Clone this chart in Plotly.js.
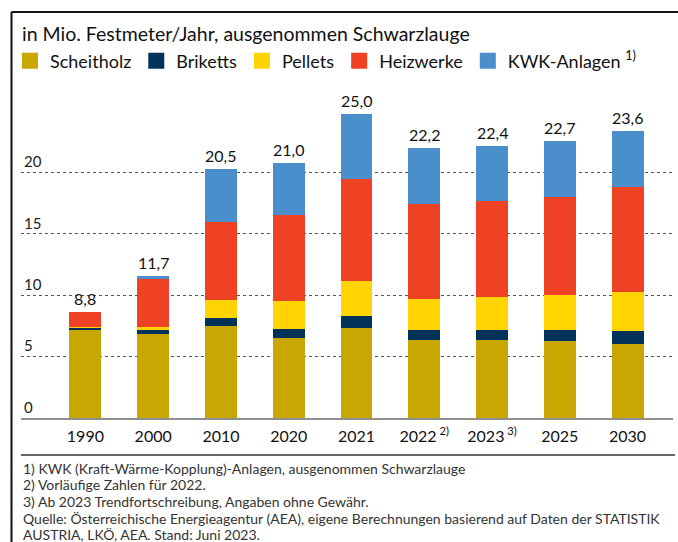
<!DOCTYPE html>
<html>
<head>
<meta charset="utf-8">
<script src="https://cdn.plot.ly/plotly-3.0.1.min.js"></script>
<style>html,body{margin:0;padding:0;background:#fff;}#chart{width:678px;height:542px;}</style>
</head>
<body>
<div id="chart"></div>
<script>
// Data (Mio. Festmeter/Jahr)
const years = ['1990','2000','2010','2020','2021','2022','2023','2025','2030'];
const yearLabels = ['1990','2000','2010','2020','2021','2022<sup> 2)</sup>','2023<sup> 3)</sup>','2025','2030'];
const scheitholz = [7.15, 6.82, 7.53, 6.50, 7.34, 6.33, 6.33, 6.28, 6.06];
const briketts   = [0.22, 0.38, 0.60, 0.73, 0.97, 0.84, 0.84, 0.86, 1.01];
const pellets    = [0.02, 0.22, 1.52, 2.28, 2.83, 2.53, 2.67, 2.89, 3.23];
const heizwerke  = [1.24, 3.88, 6.30, 7.01, 8.31, 7.74, 7.82, 7.97, 8.50];
const kwk        = [0.00, 0.27, 4.35, 4.28, 5.33, 4.54, 4.54, 4.58, 4.62];
const totalLabels = ['8,8','11,7','20,5','21,0','25,0','22,2','22,4','22,7','23,6'];
const seriesNames = ['Scheitholz','Briketts','Pellets','Heizwerke','KWK-Anlagen <sup>1)</sup>'];
const yTicks = [0, 5, 10, 15, 20];
const footnoteLines = [
  '1) KWK (Kraft-Wärme-Kopplung)-Anlagen, ausgenommen Schwarzlauge',
  '2) Vorläufige Zahlen für 2022.',
  '3) Ab 2023 Trendfortschreibung, Angaben ohne Gewähr.',
  'Quelle: Österreichische Energieagentur (AEA), eigene Berechnungen basierend auf Daten der STATISTIK',
  'AUSTRIA, LKÖ, AEA. Stand: Juni 2023.'
];

const colors = ['#C8A703', '#00325A', '#FFD400', '#EF4224', '#4A8FCB'];
const seriesData = [scheitholz, briketts, pellets, heizwerke, kwk];
const FONT = 'Lato, "Open Sans", sans-serif';

const idx = years.map((_, j) => j);

const barTraces = seriesData.map((vals, i) => ({
  type: 'bar',
  name: seriesNames[i],
  x: idx,
  y: vals,
  marker: {color: colors[i], line: {width: 0}},
  showlegend: false,
  hoverinfo: 'none'
}));
// legend entries with larger square swatches
const legendTraces = seriesNames.map((name, i) => ({
  type: 'scatter', mode: 'markers', name: name,
  x: [null], y: [null],
  marker: {symbol: 'square', size: 16, color: colors[i]},
  showlegend: true, hoverinfo: 'none'
}));

const totals = idx.map(j => seriesData.reduce((s, arr) => s + arr[j], 0));
const barAnnotations = idx.map(j => ({
  x: j, y: totals[j], xref: 'x', yref: 'y',
  text: totalLabels[j], showarrow: false,
  xanchor: 'center', yanchor: 'bottom', yshift: 2,
  font: {family: FONT, size: 16, color: '#111'}
}));

// pixel helpers (plot area: x 21..673, y 100..418)
const L = 21, W = 652, T = 100, H = 318;
const px = v => (v - L) / W;
const py = v => (T + H - v) / H;

const footAnnotations = footnoteLines.map((line, k) => ({
  xref: 'paper', yref: 'paper', x: px(21), y: py(468 + k * 16.7),
  xanchor: 'left', yanchor: 'middle', align: 'left', showarrow: false,
  text: line,
  font: {family: FONT, size: 14, color: '#333'}
}));

const layout = {
  width: 678, height: 542,
  margin: {l: L, r: 678 - L - W, t: T, b: 542 - T - H, pad: 0},
  paper_bgcolor: '#fff', plot_bgcolor: '#fff',
  barmode: 'stack',
  bargap: 0.53,
  font: {family: FONT, color: '#111'},
  title: {
    text: 'in Mio. Festmeter/Jahr, ausgenommen Schwarzlauge',
    xref: 'container', yref: 'container',
    x: 22 / 678, xanchor: 'left', y: 1 - 34 / 542, yanchor: 'middle',
    font: {family: FONT, size: 19.5, color: '#111'}
  },
  showlegend: true,
  legend: {
    orientation: 'h', x: px(10), xanchor: 'left', y: py(61), yanchor: 'middle',
    font: {family: FONT, size: 18, color: '#111'},
    traceorder: 'normal', itemwidth: 30, itemsizing: 'trace',
    itemclick: false, itemdoubleclick: false,
    bgcolor: 'rgba(0,0,0,0)'
  },
  xaxis: {
    type: 'linear', range: [-0.95, 8.67],
    tickmode: 'array', tickvals: idx, ticktext: yearLabels,
    ticks: '', ticklen: 0, ticklabelstandoff: 3, showgrid: false, zeroline: false,
    showline: true, linecolor: '#8f8f8f', linewidth: 2,
    tickfont: {family: FONT, size: 16, color: '#111'},
    fixedrange: true
  },
  yaxis: {
    range: [0, H / 12.27],
    tickmode: 'array', tickvals: yTicks, ticktext: yTicks.map(String),
    ticklabelposition: 'inside top', ticks: '',
    showgrid: true, gridcolor: '#555', griddash: 'dot', gridwidth: 1,
    zeroline: false, showline: false,
    tickfont: {family: FONT, size: 15, color: '#222'},
    fixedrange: true
  },
  shapes: [
    {type: 'line', xref: 'paper', yref: 'paper', x0: px(11.5), x1: px(11.5), y0: py(12), y1: py(545), line: {color: '#111', width: 2}},
    {type: 'line', xref: 'paper', yref: 'paper', x0: px(11.5), x1: px(680), y0: py(12), y1: py(12), line: {color: '#111', width: 2}},
    {type: 'line', xref: 'paper', yref: 'paper', x0: px(21), x1: px(675), y0: py(455), y1: py(455), line: {color: '#333', width: 1.5}}
  ],
  annotations: barAnnotations.concat(footAnnotations)
};

Plotly.newPlot('chart', barTraces.concat(legendTraces), layout, {displayModeBar: false, staticPlot: true});
</script>
</body>
</html>
